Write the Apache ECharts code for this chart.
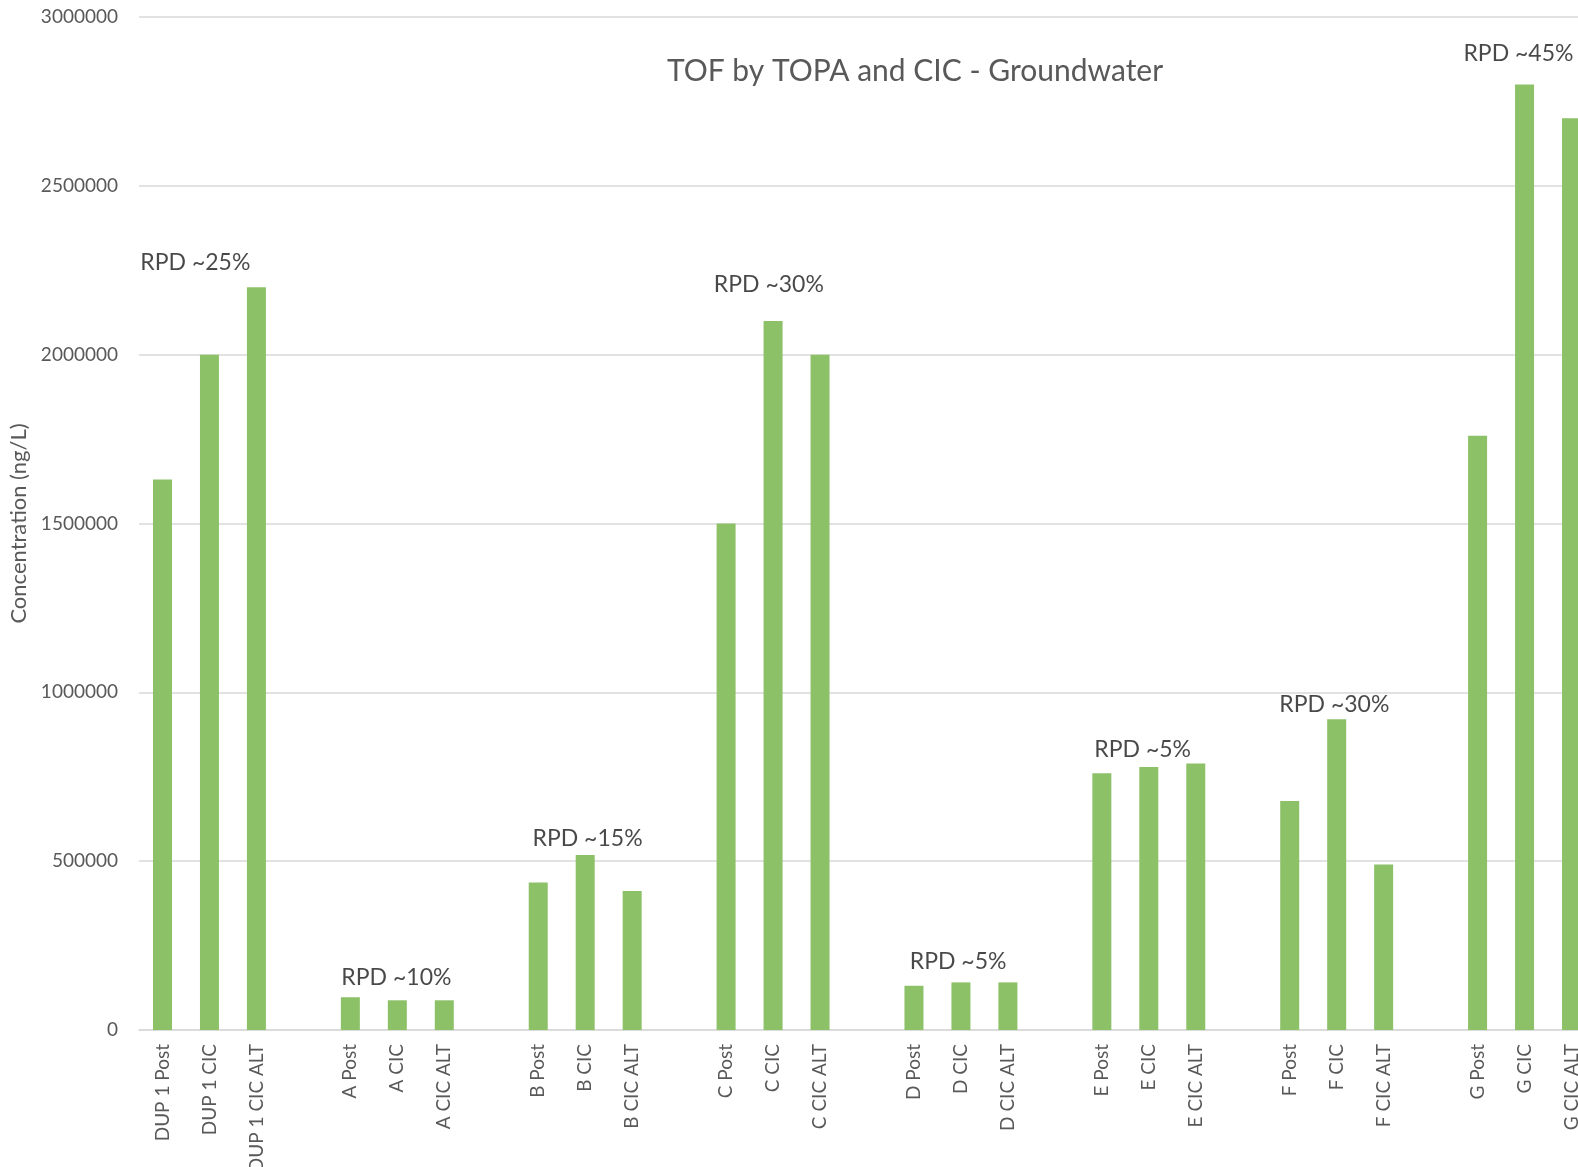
<!DOCTYPE html>
<html>
<head>
<meta charset="utf-8">
<script src="https://cdn.jsdelivr.net/npm/echarts@6/dist/echarts.min.js"></script>
<style>
html,body{margin:0;padding:0;background:#fff;}
#chart{width:1578px;height:1167px;}
</style>
</head>
<body>
<div id="chart"></div>
<script>
const categories = [
  'DUP 1 Post','DUP 1 CIC','DUP 1 CIC ALT',' ',
  'A Post','A CIC','A CIC ALT','  ',
  'B Post','B CIC','B CIC ALT','   ',
  'C Post','C CIC','C CIC ALT','    ',
  'D Post','D CIC','D CIC ALT','     ',
  'E Post','E CIC','E CIC ALT','      ',
  'F Post','F CIC','F CIC ALT','       ',
  'G Post','G CIC','G CIC ALT'
];
const concentration = [
  1630000, 2000000, 2200000, null,
  97000, 88000, 88000, null,
  437000, 518000, 412000, null,
  1500000, 2100000, 2000000, null,
  131000, 141000, 141000, null,
  760000, 779000, 789000, null,
  678000, 920000, 490000, null,
  1760000, 2800000, 2700000
];
const yTicks = [0, 500000, 1000000, 1500000, 2000000, 2500000, 3000000];
// RPD annotations: position in category-slot units and concentration units
const annText = ['RPD ~25%','RPD ~10%','RPD ~15%','RPD ~30%','RPD ~5%','RPD ~5%','RPD ~30%','RPD ~45%'];
const annSlot = [0.70, 4.98, 9.05, 12.91, 16.94, 20.87, 24.95, 28.87];
const annValue = [2273000, 155000, 566000, 2207000, 203000, 831000, 965000, 2893000];

const FONT = 'Lato, "Open Sans", sans-serif';
const chart = echarts.init(document.getElementById('chart'), null, {renderer:'canvas'});
chart.setOption({
  backgroundColor: '#ffffff',
  animation: false,
  title: {
    text: 'TOF by TOPA and CIC - Groundwater',
    left: 910, top: 51, textAlign: 'center',
    textStyle: {fontFamily: FONT, fontSize: 30, fontWeight: 'normal', color: '#595959'}
  },
  grid: {left: 139, top: 17, width: 1456, bottom: 137, containLabel: false, outerBoundsMode: 'none'},
  xAxis: [{
    type: 'category',
    data: categories,
    boundaryGap: true,
    axisLine: {show: true, lineStyle: {color: '#d9d9d9', width: 1.5}},
    axisTick: {show: false},
    axisLabel: {rotate: 90, interval: 0, margin: 14, fontFamily: FONT, fontSize: 19, color: '#595959'}
  }, {
    type: 'value', min: -0.5, max: 30.5, show: false
  }],
  yAxis: {
    type: 'value',
    min: yTicks[0], max: yTicks[yTicks.length-1], interval: yTicks[1]-yTicks[0],
    name: 'Concentration (ng/L)',
    nameLocation: 'middle', nameRotate: 90, nameGap: 99,
    nameTextStyle: {fontFamily: FONT, fontSize: 22, color: '#595959'},
    axisLine: {show: false}, axisTick: {show: false},
    splitLine: {lineStyle: {color: '#d9d9d9', width: 1.5}},
    axisLabel: {margin: 21, fontFamily: FONT, fontSize: 19, color: '#595959', formatter: v => String(v)}
  },
  series: [{
    type: 'bar',
    data: concentration,
    barWidth: 19,
    itemStyle: {color: '#8cc168'}
  }, {
    type: 'scatter',
    xAxisIndex: 1,
    symbolSize: 0,
    data: annSlot.map((s, i) => ({value: [s, annValue[i]], label: {formatter: annText[i]}})),
    label: {show: true, position: 'inside', fontFamily: FONT, fontSize: 23, color: '#1a1a1a'},
    silent: true
  }]
});
</script>
</body>
</html>
